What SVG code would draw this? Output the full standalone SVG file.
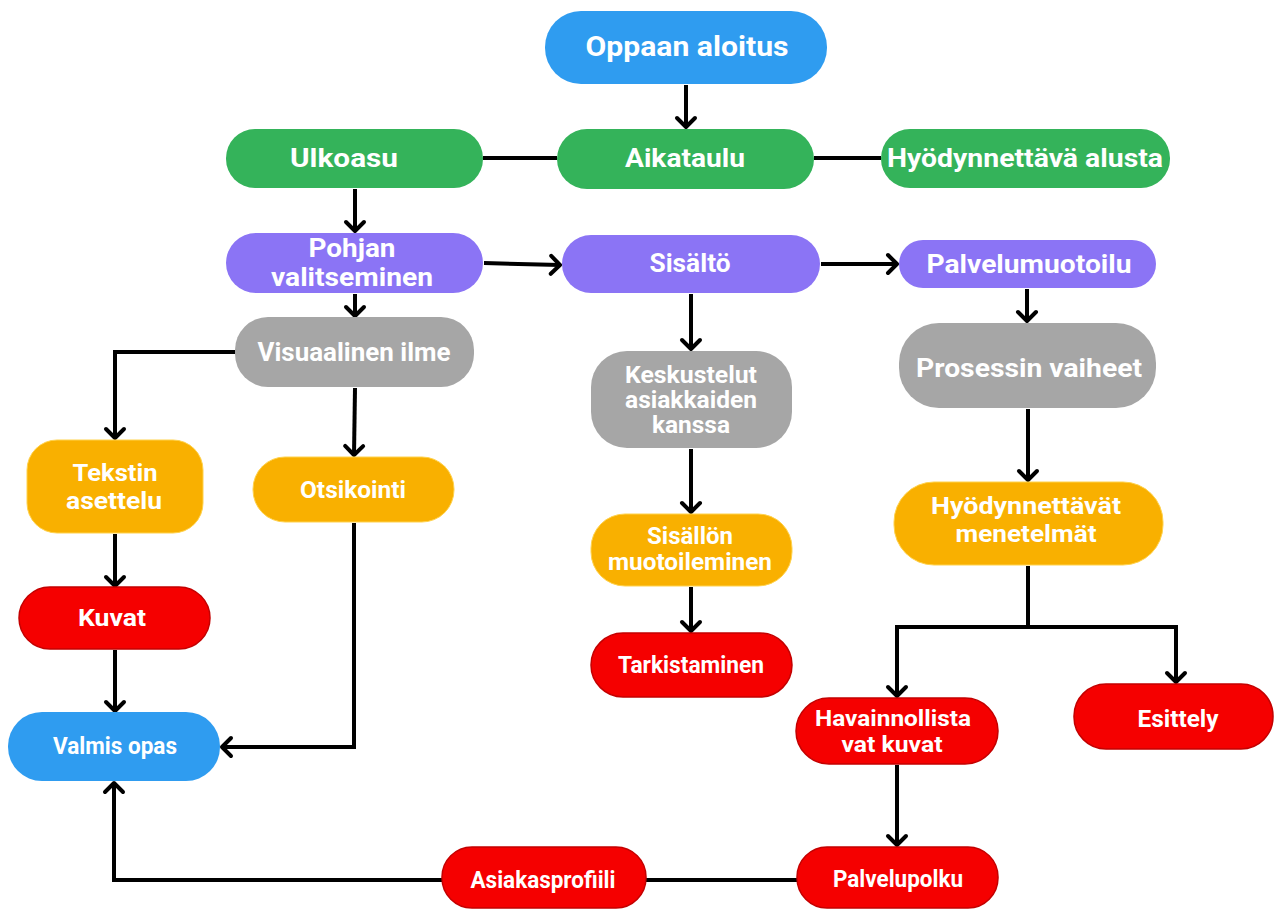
<svg xmlns="http://www.w3.org/2000/svg" width="1274" height="909" viewBox="0 0 1274 909">
  <style>
    .blue { fill: #2f9cf0; }
    .green { fill: #34b35a; }
    .purple { fill: #8b74f5; }
    .gray { fill: #a6a6a6; }
    .orange { fill: #f9b000; stroke: #ffd24d; stroke-width: 1; }
    .red { fill: #f50000; stroke: #c40000; stroke-width: 1.5; }
    text { font-family: Roboto, "Liberation Sans", sans-serif; font-weight: bold; fill: #ffffff; text-anchor: middle; }
    .conn { fill: none; stroke: #000000; stroke-width: 4; stroke-linejoin: miter; }
  </style>
  <defs>
    <marker id="arrow" markerUnits="userSpaceOnUse" markerWidth="24" markerHeight="24" refX="12" refY="12" orient="auto">
      <path d="M3 3 L12 12 L3 21" fill="none" stroke="#000000" stroke-width="4" stroke-linecap="round" stroke-linejoin="round"/>
    </marker>
  </defs>
  <rect width="1274" height="909" fill="#ffffff"/>

  <!-- connectors -->
  <g id="connectors">
    <path class="conn" d="M686 85 V127" marker-end="url(#arrow)"/>
    <path class="conn" d="M483 158 H557"/>
    <path class="conn" d="M814 158 H881"/>
    <path class="conn" d="M355 189 V231" marker-end="url(#arrow)"/>
    <path class="conn" d="M484 263 L560 265" marker-end="url(#arrow)"/>
    <path class="conn" d="M821 264 H897" marker-end="url(#arrow)"/>
    <path class="conn" d="M355 294 V316" marker-end="url(#arrow)"/>
    <path class="conn" d="M235 352 H115 V438" marker-end="url(#arrow)"/>
    <path class="conn" d="M355 388 L354 455" marker-end="url(#arrow)"/>
    <path class="conn" d="M354 523 V747 H222" marker-end="url(#arrow)"/>
    <path class="conn" d="M115 534 V586" marker-end="url(#arrow)"/>
    <path class="conn" d="M115 650 V711" marker-end="url(#arrow)"/>
    <path class="conn" d="M442 880 H114 V783" marker-end="url(#arrow)"/>
    <path class="conn" d="M797 880 H646"/>
    <path class="conn" d="M691 294 V349" marker-end="url(#arrow)"/>
    <path class="conn" d="M691 449 V512" marker-end="url(#arrow)"/>
    <path class="conn" d="M691 587 V631" marker-end="url(#arrow)"/>
    <path class="conn" d="M1027 289 V321" marker-end="url(#arrow)"/>
    <path class="conn" d="M1028 409 V480" marker-end="url(#arrow)"/>
    <path class="conn" d="M1028 566 V627"/>
    <path class="conn" d="M897 627 H1176 V682" marker-end="url(#arrow)"/>
    <path class="conn" d="M897 625 V696" marker-end="url(#arrow)"/>
    <path class="conn" d="M897 765 V845" marker-end="url(#arrow)"/>
  </g>

  <!-- nodes -->
  <g id="oppaan-aloitus">
    <rect class="blue" x="545" y="11" width="282" height="73" rx="36"/>
    <text x="687" y="56" font-size="28" textLength="203" lengthAdjust="spacingAndGlyphs">Oppaan aloitus</text>
  </g>
  <g id="ulkoasu">
    <rect class="green" x="226" y="129" width="257" height="59" rx="29"/>
    <text x="344" y="167" font-size="26" textLength="108" lengthAdjust="spacingAndGlyphs">Ulkoasu</text>
  </g>
  <g id="aikataulu">
    <rect class="green" x="557" y="129" width="257" height="60" rx="30"/>
    <text x="685" y="167" font-size="26" textLength="120" lengthAdjust="spacingAndGlyphs">Aikataulu</text>
  </g>
  <g id="hyodynnettava-alusta">
    <rect class="green" x="881" y="129" width="289" height="59" rx="29"/>
    <text x="1025" y="167" font-size="26" textLength="276" lengthAdjust="spacingAndGlyphs">Hyödynnettävä alusta</text>
  </g>
  <g id="pohjan-valitseminen">
    <rect class="purple" x="226" y="233" width="257" height="60" rx="30"/>
    <text x="352" y="257" font-size="25" textLength="87" lengthAdjust="spacingAndGlyphs">Pohjan</text>
    <text x="352" y="286" font-size="25" textLength="162" lengthAdjust="spacingAndGlyphs">valitseminen</text>
  </g>
  <g id="sisalto">
    <rect class="purple" x="562" y="235" width="258" height="58" rx="29"/>
    <text x="690" y="272" font-size="25" textLength="81" lengthAdjust="spacingAndGlyphs">Sisältö</text>
  </g>
  <g id="palvelumuotoilu">
    <rect class="purple" x="899" y="240" width="257" height="48" rx="24"/>
    <text x="1029" y="273" font-size="25" textLength="205" lengthAdjust="spacingAndGlyphs">Palvelumuotoilu</text>
  </g>
  <g id="visuaalinen-ilme">
    <rect class="gray" x="235" y="317" width="239" height="70" rx="33"/>
    <text x="354" y="361" font-size="25" textLength="193" lengthAdjust="spacingAndGlyphs">Visuaalinen ilme</text>
  </g>
  <g id="keskustelut">
    <rect class="gray" x="591" y="351" width="201" height="97" rx="36"/>
    <text x="691" y="383" font-size="23" textLength="132" lengthAdjust="spacingAndGlyphs">Keskustelut</text>
    <text x="691" y="408" font-size="23" textLength="132" lengthAdjust="spacingAndGlyphs">asiakkaiden</text>
    <text x="691" y="433" font-size="23" textLength="78" lengthAdjust="spacingAndGlyphs">kanssa</text>
  </g>
  <g id="prosessin-vaiheet">
    <rect class="gray" x="899" y="323" width="257" height="85" rx="40"/>
    <text x="1029" y="377" font-size="26" textLength="226" lengthAdjust="spacingAndGlyphs">Prosessin vaiheet</text>
  </g>
  <g id="tekstin-asettelu">
    <rect class="orange" x="27" y="440" width="176" height="93" rx="30"/>
    <text x="115" y="481" font-size="24" textLength="85" lengthAdjust="spacingAndGlyphs">Tekstin</text>
    <text x="114" y="509" font-size="24" textLength="96" lengthAdjust="spacingAndGlyphs">asettelu</text>
  </g>
  <g id="otsikointi">
    <rect class="orange" x="253" y="457" width="201" height="65" rx="32"/>
    <text x="353" y="498" font-size="24" textLength="106" lengthAdjust="spacingAndGlyphs">Otsikointi</text>
  </g>
  <g id="sisallon-muotoileminen">
    <rect class="orange" x="591" y="514" width="201" height="72" rx="34"/>
    <text x="690" y="544" font-size="23" textLength="86" lengthAdjust="spacingAndGlyphs">Sisällön</text>
    <text x="690" y="570" font-size="23" textLength="164" lengthAdjust="spacingAndGlyphs">muotoileminen</text>
  </g>
  <g id="hyodynnettavat-menetelmat">
    <rect class="orange" x="894" y="482" width="269" height="83" rx="40"/>
    <text x="1026" y="514" font-size="23" textLength="190" lengthAdjust="spacingAndGlyphs">Hyödynnettävät</text>
    <text x="1026" y="542" font-size="23" textLength="141" lengthAdjust="spacingAndGlyphs">menetelmät</text>
  </g>
  <g id="kuvat">
    <rect class="red" x="19" y="587" width="191" height="62" rx="31"/>
    <text x="112" y="626" font-size="24" textLength="68" lengthAdjust="spacingAndGlyphs">Kuvat</text>
  </g>
  <g id="tarkistaminen">
    <rect class="red" x="591" y="633" width="201" height="64" rx="32"/>
    <text x="691" y="673" font-size="23" textLength="146" lengthAdjust="spacingAndGlyphs">Tarkistaminen</text>
  </g>
  <g id="valmis-opas">
    <rect class="blue" x="8" y="712" width="212" height="69" rx="34"/>
    <text x="115" y="754" font-size="23" textLength="124" lengthAdjust="spacingAndGlyphs">Valmis opas</text>
  </g>
  <g id="havainnollistavat-kuvat">
    <rect class="red" x="796" y="698" width="202" height="66" rx="33"/>
    <text x="893" y="726" font-size="22" textLength="156" lengthAdjust="spacingAndGlyphs">Havainnollista</text>
    <text x="892" y="752" font-size="22" textLength="101" lengthAdjust="spacingAndGlyphs">vat kuvat</text>
  </g>
  <g id="esittely">
    <rect class="red" x="1074" y="684" width="199" height="65" rx="32"/>
    <text x="1178" y="727" font-size="23" textLength="81" lengthAdjust="spacingAndGlyphs">Esittely</text>
  </g>
  <g id="asiakasprofiili">
    <rect class="red" x="442" y="847" width="204" height="61" rx="30"/>
    <text x="543" y="888" font-size="23" textLength="145" lengthAdjust="spacingAndGlyphs">Asiakasprofiili</text>
  </g>
  <g id="palvelupolku">
    <rect class="red" x="797" y="847" width="201" height="61" rx="30"/>
    <text x="898" y="887" font-size="23" textLength="130" lengthAdjust="spacingAndGlyphs">Palvelupolku</text>
  </g>
</svg>
